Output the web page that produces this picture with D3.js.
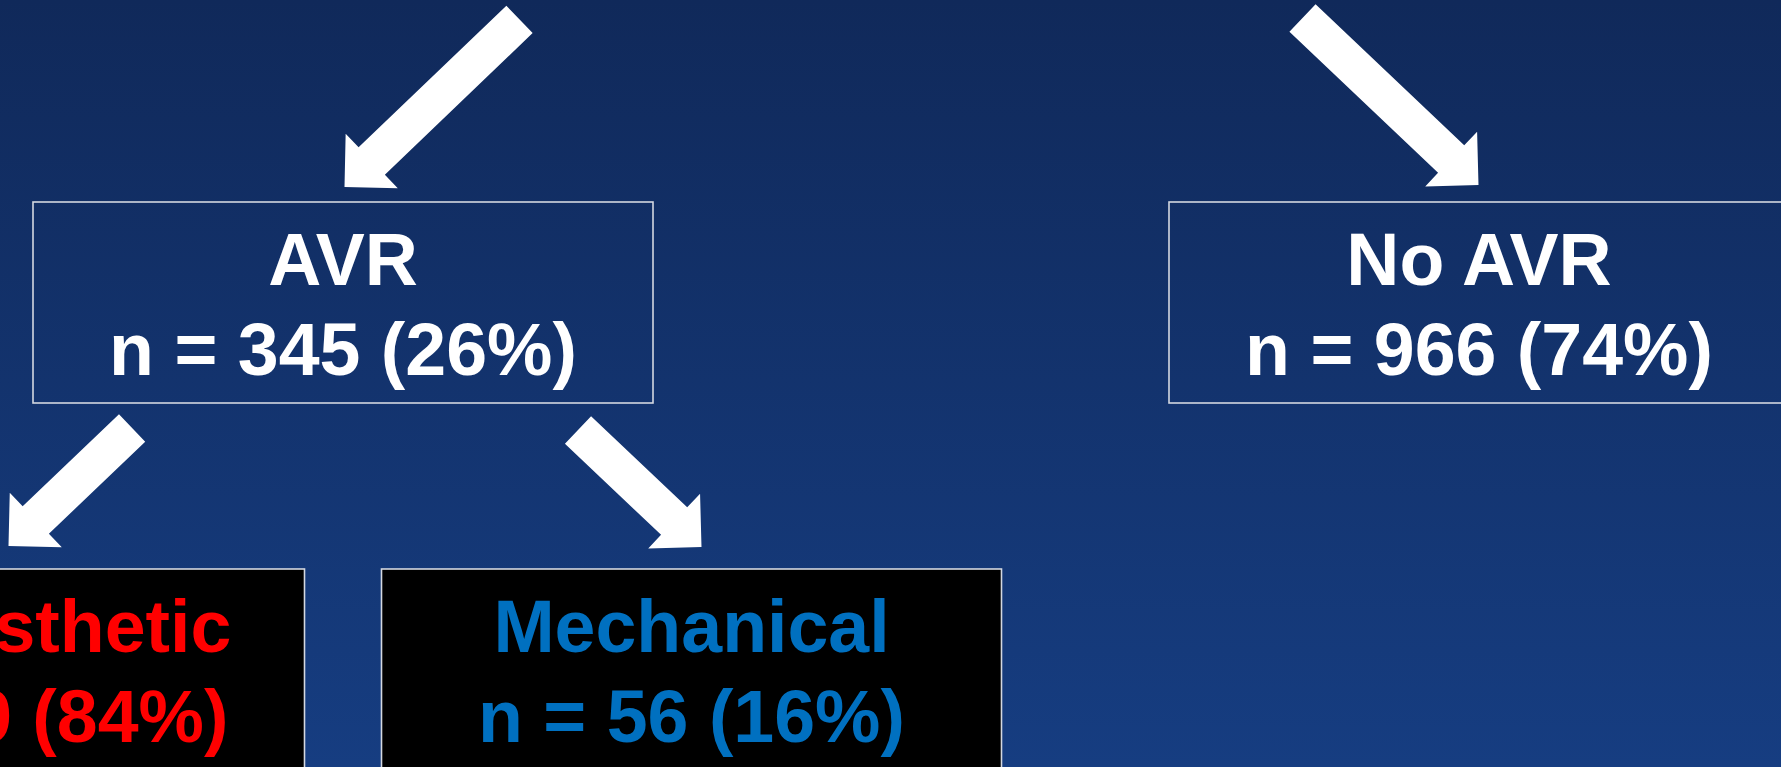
<!DOCTYPE html>
<html>
<head>
<meta charset="utf-8">
<script src="https://cdn.jsdelivr.net/npm/d3@7"></script>
<style>
  html, body { margin: 0; padding: 0; background: #123163; overflow: hidden; }
  svg { display: block; }
  text { font-family: "Liberation Sans", Arial, Helvetica, sans-serif; font-weight: bold; }
</style>
</head>
<body>
<svg id="chart"></svg>
<script>
// Patient flow: valve replacement split and prosthesis type
const groups   = ["AVR", "No AVR", "Bioprosthetic", "Mechanical"];
const counts   = [345, 966, 289, 56];
const percents = [26, 74, 84, 16];
const parents  = ["All", "All", "AVR", "AVR"];
const levels   = [1, 1, 2, 2];

const W = 1781, H = 767;
const svg = d3.select("#chart").attr("width", W).attr("height", H);

// slide background
const defs = svg.append("defs");
const grad = defs.append("linearGradient")
  .attr("id", "bg").attr("x1", 0).attr("y1", 0).attr("x2", 0).attr("y2", 1);
grad.append("stop").attr("offset", "0%").attr("stop-color", "#10295a");
grad.append("stop").attr("offset", "100%").attr("stop-color", "#163d81");
svg.append("rect").attr("width", W).attr("height", H).attr("fill", "url(#bg)");

// layout
const boxW = 620, boxH = 201;
const levelTop = d3.scaleLinear().domain([1, 2]).range([202, 569]);
const rootX = 911;
const spread = { 1: 568, 2: 348.5 };           // half-distance between siblings
const styles = {
  "AVR":           { fill: "none",   color: "#ffffff" },
  "No AVR":        { fill: "none",   color: "#ffffff" },
  "Bioprosthetic": { fill: "#000000", color: "#ff0000" },
  "Mechanical":    { fill: "#000000", color: "#0070c0" }
};

const nodes = groups.map((g, i) => ({
  name: g, n: counts[i], pct: percents[i], parent: parents[i], level: levels[i]
}));
const byName = { All: { cx: rootX, level: 0 } };
// place each node to the left/right of its parent
nodes.forEach(d => {
  const p = byName[d.parent];
  const sibs = nodes.filter(s => s.parent === d.parent);
  const side = sibs.indexOf(d) === 0 ? -1 : 1;
  d.side = side;
  d.cx = p.cx + side * spread[d.level];
  d.top = levelTop(d.level);
  byName[d.name] = d;
});

// block arrows
const shaftHalf = 19, headHalf = 37.7, headLen = 37.7;
const arrowSpec = {                       // tip offset from box top-centre and arrow run
  "AVR":           { tipDx: 1.5,  gap: 15, run: [175, 167.6] },
  "No AVR":        { tipDx: -0.5, gap: 17, run: [176, 167] },
  "Bioprosthetic": { tipDx: 14,   gap: 23, run: [123.6, 117.9] },
  "Mechanical":    { tipDx: 10,   gap: 22, run: [123.5, 117] }
};
function arrowPath(d) {
  const s = arrowSpec[d.name];
  const tip = [d.cx + s.tipDx, d.top - s.gap];
  const tail = [tip[0] - d.side * s.run[0], tip[1] - s.run[1]];
  const len = Math.hypot(tip[0] - tail[0], tip[1] - tail[1]);
  const u = [(tip[0] - tail[0]) / len, (tip[1] - tail[1]) / len];
  const nv = [-u[1], u[0]];
  const b = [tip[0] - u[0] * headLen, tip[1] - u[1] * headLen];
  const pt = (o, k) => [o[0] + nv[0] * k, o[1] + nv[1] * k];
  const pts = [pt(tail, shaftHalf), pt(b, shaftHalf), pt(b, headHalf), tip,
               pt(b, -headHalf), pt(b, -shaftHalf), pt(tail, -shaftHalf)];
  return d3.line()(pts) + "Z";
}
svg.append("g").selectAll("path").data(nodes).join("path")
  .attr("d", arrowPath)
  .attr("fill", "#ffffff");

// boxes
const box = svg.append("g").selectAll("g").data(nodes).join("g")
  .attr("transform", d => `translate(${d.cx - boxW / 2},${d.top})`);
box.append("rect")
  .attr("width", boxW).attr("height", boxH)
  .attr("fill", d => styles[d.name].fill)
  .attr("stroke", "#d4d8e0").attr("stroke-width", 1.6);

const fmt = d3.format("d");
box.append("text")
  .attr("x", boxW / 2).attr("y", 83)
  .attr("text-anchor", "middle")
  .attr("font-size", 73.5)
  .attr("fill", d => styles[d.name].color)
  .text(d => d.name);
box.append("text")
  .attr("x", boxW / 2).attr("y", 173)
  .attr("text-anchor", "middle")
  .attr("font-size", 73.5)
  .attr("fill", d => styles[d.name].color)
  .text(d => `n = ${fmt(d.n)} (${fmt(d.pct)}%)`);
</script>
</body>
</html>
